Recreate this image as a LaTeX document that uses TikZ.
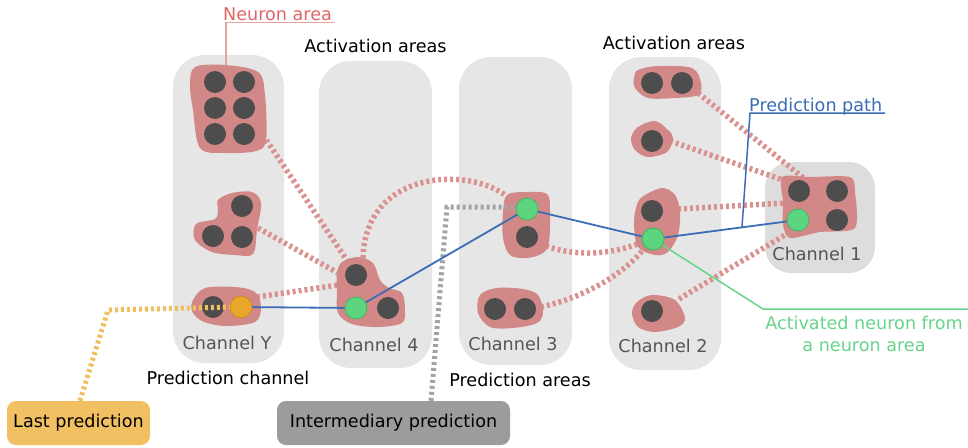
\documentclass[tikz,border=0pt]{standalone}
\usepackage{fontspec}
\setmainfont{DejaVu Sans}
\definecolor{chanbg}{HTML}{E6E6E6}
\definecolor{chanbgB}{HTML}{DDDDDD}
\definecolor{blobfill}{HTML}{D38888}
\definecolor{linkpink}{HTML}{DC9191}
\definecolor{neuron}{HTML}{4D4D4D}
\definecolor{actgreen}{HTML}{5DD47E}
\definecolor{actgreenD}{HTML}{45B565}
\definecolor{predorange}{HTML}{E9A82C}
\definecolor{predorangeD}{HTML}{C98D1F}
\definecolor{pathblue}{HTML}{3A6DB5}
\definecolor{labelred}{HTML}{E06666}
\definecolor{leaderred}{HTML}{E8A3A3}
\definecolor{labelgreen}{HTML}{66D48A}
\definecolor{lastfill}{HTML}{F0C062}
\definecolor{lastdash}{HTML}{F0C060}
\definecolor{interfill}{HTML}{9C9C9C}
\definecolor{interdash}{HTML}{A4A4A4}
\definecolor{chantext}{HTML}{555555}
\newcommand\lblfont{\fontsize{17.6}{22}\selectfont}
\begin{document}
\begin{tikzpicture}[x=1pt,y=-1pt,
  every node/.style={font=\lblfont},
  chan/.style={fill=chanbg, rounded corners=32pt},
  chanlbl/.style={text=chantext, inner sep=0pt},
  blob/.style={fill=blobfill},
  neu/.style={circle, fill=neuron, minimum size=22pt, inner sep=0pt},
  act/.style={circle, fill=actgreen, draw=actgreenD, line width=0.8pt, minimum size=22pt, inner sep=0pt},
  lastneu/.style={circle, fill=predorange, draw=predorangeD, line width=0.8pt, minimum size=22pt, inner sep=0pt},
  link/.style={draw=linkpink, line width=5.5pt, dash pattern=on 3pt off 3pt},
  interlink/.style={draw=interdash, line width=5pt, dash pattern=on 3pt off 3pt},
  lastlink/.style={draw=lastdash, line width=5pt, dash pattern=on 3pt off 3pt},
  predpath/.style={draw=pathblue, line width=1.8pt},
  tagbox/.style={rounded corners=9pt, minimum height=44pt, inner sep=0pt, text=black},
  caption/.style={text=black, inner sep=0pt}]

\useasboundingbox (0,0) rectangle (968,447);

% channel columns
\fill[chan] (173,55) rectangle (284,363);
\fill[chan] (319,61) rectangle (432,368);
\fill[chan] (459,57) rectangle (572,365);
\fill[chan] (609,57) rectangle (721,370);
\fill[fill=chanbgB, rounded corners=26pt] (765,162) rectangle (875,273);

\node[chanlbl] (chY) at (227,343) {Channel Y};
\node[chanlbl] (ch4) at (374,345) {Channel 4};
\node[chanlbl] (ch3) at (513,344) {Channel 3};
\node[chanlbl] (ch2) at (663,346) {Channel 2};
\node[chanlbl] (ch1) at (817,254) {Channel 1};

% links between neuron areas
\coordinate (sA1) at (263,135); \coordinate (tA1) at (348,262);
\coordinate (sA2) at (258,228); \coordinate (tA2) at (338,273);
\coordinate (sA3) at (257,297); \coordinate (tA3) at (338,285);
\coordinate (sB1) at (363,258); \coordinate (tB1) at (509,198);
\coordinate (sC1) at (546,246); \coordinate (tC1) at (640,243);
\coordinate (sC2) at (541,307); \coordinate (tC2) at (643,250);
\coordinate (sD1) at (698,93);  \coordinate (tD1) at (806,180);
\coordinate (sD2) at (670,141); \coordinate (tD2) at (786,181);
\coordinate (sD3) at (678,209); \coordinate (tD3) at (786,203);
\coordinate (sD4) at (679,299); \coordinate (tD4) at (790,232);
\draw[link] (sA1) -- (tA1);
\draw[link] (sA2) -- (tA2);
\draw[link] (sA3) -- (tA3);
\draw[link] (sB1) .. controls (365,170) and (470,165) .. (tB1);
\draw[link] (sC1) .. controls (580,258) and (615,253) .. (tC1);
\draw[link] (sC2) .. controls (585,297) and (622,275) .. (tC2);
\draw[link] (sD1) -- (tD1);
\draw[link] (sD2) -- (tD2);
\draw[link] (sD3) -- (tD3);
\draw[link] (sD4) -- (tD4);

% neuron areas
\fill[blob] plot[smooth cycle, tension=0.55] coordinates {(195,67) (225,65) (258,72) (265,95) (266,140) (256,151) (225,153) (200,148) (193,110) (190,85)};
\fill[blob] plot[smooth cycle, tension=0.55] coordinates {(218,200) (232,193) (252,192) (261,203) (257,230) (253,254) (235,255) (212,252) (195,240) (196,224) (215,219) (218,210)};
\fill[blob] plot[smooth cycle, tension=0.55] coordinates {(193,300) (205,288) (235,287) (255,292) (261,307) (255,322) (225,326) (202,321) (192,311)};
\fill[blob] plot[smooth cycle, tension=0.55] coordinates {(342,262) (358,257) (373,263) (380,280) (389,288) (402,293) (405,310) (402,323) (378,327) (352,324) (338,313) (337,290) (337,273)};
\fill[blob] plot[smooth cycle, tension=0.55] coordinates {(507,195) (525,192) (547,194) (550,212) (549,242) (543,253) (527,258) (510,255) (503,238) (503,212)};
\fill[blob] plot[smooth cycle, tension=0.55] coordinates {(480,295) (497,288) (523,289) (538,295) (543,312) (537,323) (513,328) (490,327) (478,313)};
\fill[blob] plot[smooth cycle, tension=0.55] coordinates {(638,70) (658,66) (692,68) (701,83) (698,95) (675,98) (648,98) (635,88) (634,78)};
\fill[blob] plot[smooth cycle, tension=0.55] coordinates {(638,127) (655,121) (668,130) (673,138) (667,152) (648,157) (635,150) (631,138)};
\fill[blob] plot[smooth cycle, tension=0.55] coordinates {(642,197) (662,188) (675,195) (680,212) (678,235) (668,252) (655,255) (638,247) (634,225) (636,208)};
\fill[blob] plot[smooth cycle, tension=0.55] coordinates {(637,302) (652,295) (675,300) (685,318) (678,327) (655,332) (638,327) (632,313)};
\fill[blob] plot[smooth cycle, tension=0.45] coordinates {(782,177) (810,177) (850,177) (855,192) (855,228) (820,232) (790,238) (783,225) (783,202)};

% neurons
\node[neu] (a1) at (215,82) {};
\node[neu] (a2) at (244,82) {};
\node[neu] (a3) at (215,108) {};
\node[neu] (a4) at (244,108) {};
\node[neu] (a5) at (215,134) {};
\node[neu] (a6) at (244,134) {};
\node[neu] (b1) at (242,206) {};
\node[neu] (b2) at (213,236) {};
\node[neu] (b3) at (242,237) {};
\node[neu] (c1) at (213,307) {};
\node[neu] (d1) at (356,275) {};
\node[neu] (d2) at (388,308) {};
\node[neu] (e1) at (527,237) {};
\node[neu] (f1) at (495,309) {};
\node[neu] (f2) at (525,309) {};
\node[neu] (h1) at (652,83) {};
\node[neu] (h2) at (682,83) {};
\node[neu] (i1) at (652,141) {};
\node[neu] (j1) at (652,211) {};
\node[neu] (k1) at (652,311) {};
\node[neu] (l1) at (799,191) {};
\node[neu] (l2) at (837,191) {};
\node[neu] (l3) at (837,220) {};

% prediction tags
\node[tagbox, fill=lastfill, minimum width=143pt] (last) at (78.5,423) {Last prediction};
\node[tagbox, fill=interfill, minimum width=233pt] (inter) at (393.5,423) {Intermediary prediction};

% leader lines of the tags
\coordinate (lastbend) at (108,310);
\coordinate (interbend) at (447,207);
\draw[interlink] (inter.north -| 431,0) -- (interbend) -- (520,207);
\draw[lastlink] (last.north -| 80,0) -- (lastbend) -- (232,307);

% prediction path
\node[lastneu] (nY) at (241,307) {};
\node[act] (n4) at (356,308) {};
\node[act] (n3) at (527,209) {};
\node[act] (n2) at (653,239) {};
\node[act] (n1) at (798,220) {};
\draw[predpath] (nY) -- (n4) -- (n3) -- (n2) -- (n1);

% annotations
\node[caption] (act1) at (375.5,46) {Activation areas};
\node[caption] (act2) at (674,43) {Activation areas};
\node[caption] (pch) at (228,378) {Prediction channel};
\node[caption] (par) at (520,380) {Prediction areas};

\node[text=labelred, inner sep=0pt, anchor=base west] (nalbl) at (223,20) {Neuron area};
\coordinate (nabend) at (226,22.5);
\draw[leaderred, line width=1.5pt] (335,22.5) -- (nabend) -- (226,65);

\node[text=pathblue, inner sep=0pt, anchor=base west] (pplbl) at (749,111) {Prediction path};
\coordinate (ppfoot) at (742,227);
\draw[pathblue, line width=1.5pt] (885,113) -- (750,113) -- (ppfoot);

\node[text=labelgreen, inner sep=0pt, align=center] (anlbl) at (864,334) {Activated neuron from\\a neuron area};
\coordinate (anbend) at (763,309);
\draw[labelgreen, line width=1.5pt] (n2) -- (anbend) -- (968,309);
\node[act] at (n2) {};

\end{tikzpicture}
\end{document}
